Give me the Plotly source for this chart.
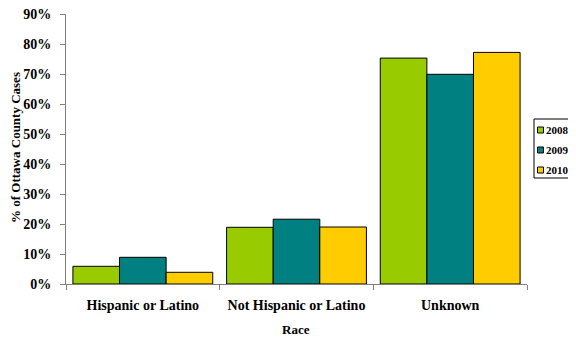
import plotly.graph_objects as go

categories = ["Hispanic or Latino", "Not Hispanic or Latino", "Unknown"]
years = ["2008", "2009", "2010"]
values_2008 = [5.9, 18.9, 75.3]
values_2009 = [8.9, 21.6, 69.9]
values_2010 = [3.9, 19.0, 77.2]
colors = ["#99CC00", "#008080", "#FFCC00"]
y_ticks = [0, 10, 20, 30, 40, 50, 60, 70, 80, 90]
y_tick_labels = [f"{v}%" for v in y_ticks]
y_title = "% of Ottawa County Cases"
x_title = "Race"

font_family = "Liberation Serif, Times New Roman, serif"

fig = go.Figure()
for name, vals, col in zip(years, [values_2008, values_2009, values_2010], colors):
    fig.add_trace(go.Bar(
        x=categories, y=vals, name=name,
        marker=dict(color=col, line=dict(color="black", width=1)),
        showlegend=False,
    ))

# The page body has an 8px margin; the figure size compensates so the plot
# lands where the reference has it.
OFF = 8
W, H = 560, 331
ML, MR, MT, MB = 58, 41, 6, 55
pw = W - ML - MR
ph = H - MT - MB

def px_x(x_abs):
    return (x_abs - OFF - ML) / pw

def px_y(y_abs):
    return (H - MB - (y_abs - OFF)) / ph

shapes = []
annotations = []
# legend frame (runs past the right edge, as in the reference)
shapes.append(dict(type="rect", xref="paper", yref="paper",
                   x0=px_x(534), x1=px_x(590), y0=px_y(178), y1=px_y(119),
                   line=dict(color="black", width=1), fillcolor="white", layer="above"))
for i, (name, col) in enumerate(zip(years, colors)):
    yc = 130 + 20 * i
    shapes.append(dict(type="rect", xref="paper", yref="paper",
                       x0=px_x(537.5), x1=px_x(543.5), y0=px_y(yc + 3), y1=px_y(yc - 3),
                       line=dict(color="black", width=1), fillcolor=col, layer="above"))
    annotations.append(dict(xref="paper", yref="paper", x=px_x(545), y=px_y(yc),
                            xanchor="left", yanchor="middle", showarrow=False,
                            text=f"<b>{name}</b>", borderpad=0,
                            font=dict(family=font_family, size=11, color="black")))

# y-axis title
annotations.append(dict(xref="paper", yref="paper", x=px_x(15), y=px_y(148),
                        xanchor="center", yanchor="middle", showarrow=False,
                        textangle=-90, text=f"<b>{y_title}</b>", borderpad=0,
                        font=dict(family=font_family, size=13, color="black")))
# x-axis title
annotations.append(dict(xref="paper", yref="paper", x=px_x(296), y=px_y(329),
                        xanchor="center", yanchor="middle", showarrow=False,
                        text=f"<b>{x_title}</b>", borderpad=0,
                        font=dict(family=font_family, size=13, color="black")))

fig.update_layout(
    width=W, height=H,
    margin=dict(l=ML, r=MR, t=MT, b=MB, autoexpand=False),
    paper_bgcolor="white", plot_bgcolor="white",
    barmode="group", bargap=0.09, bargroupgap=0,
    font=dict(family=font_family, size=13, color="black"),
    showlegend=False,
    shapes=shapes, annotations=annotations,
    xaxis=dict(
        showline=True, linecolor="#808080", linewidth=1,
        ticks="outside", tickson="boundaries", ticklen=5, tickcolor="#808080",
        tickfont=dict(family=font_family, size=14, color="black", weight="bold"),
        ticklabelstandoff=8, ticklabeloverflow="allow",
        showgrid=False, automargin=False,
    ),
    yaxis=dict(
        range=[0, 90], tickvals=y_ticks, ticktext=y_tick_labels,
        showline=True, linecolor="#808080", linewidth=1,
        ticks="outside", ticklen=5, tickcolor="#808080",
        tickfont=dict(family=font_family, size=14, color="black", weight="bold"),
        ticklabelstandoff=6, ticklabeloverflow="allow",
        showgrid=False, zeroline=False, automargin=False,
    ),
)

fig.write_html("out.html")
